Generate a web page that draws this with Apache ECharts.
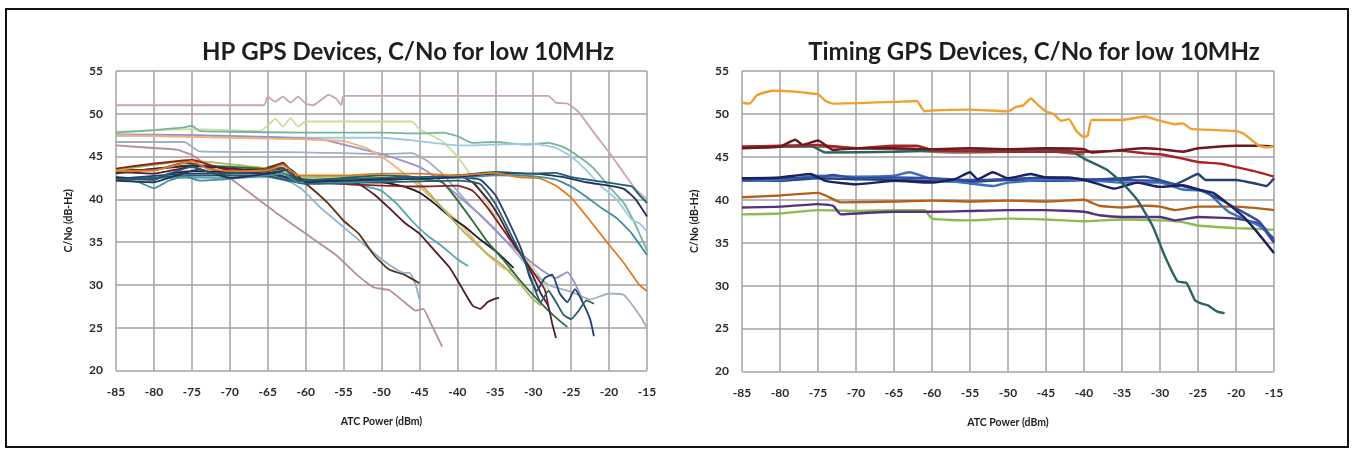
<!DOCTYPE html>
<html>
<head>
<meta charset="utf-8">
<script src="https://cdn.jsdelivr.net/npm/echarts@6/dist/echarts.min.js"></script>
<style>
html,body{margin:0;padding:0;background:#fff;}
#c{width:1353px;height:453px;}
</style>
</head>
<body>
<div id="c"></div>
<script>
// ---------- labels ----------
const titleLeft = 'HP GPS Devices, C/No for low 10MHz';
const titleRight = 'Timing GPS Devices, C/No for low 10MHz';
const xName = 'ATC Power (dBm)';
const yName = 'C/No (dB-Hz)';
const xTicks = [-85, -80, -75, -70, -65, -60, -55, -50, -45, -40, -35, -30, -25, -20, -15];
const yTicks = [20, 25, 30, 35, 40, 45, 50, 55];

// ---------- HP GPS devices (left) : [ATC power dBm, C/No dB-Hz] ----------
const hpPinkTop = [[-85,51],[-65.5,51],[-65,52],[-64,51.4],[-63,52],[-62,51.3],[-61,52],[-60,51.2],[-59,51],[-58,51.6],[-57,52.2],[-56,51.8],[-55.3,51],[-55,52.1],[-28,52.1],[-27,51.3],[-25.5,51.2],[-24,50.2],[-22,47.8],[-20,45.5],[-18,43],[-16.5,41.2],[-15,40]];
const hpYellowGreen = [[-85,47.9],[-75,48.2],[-66,48],[-65,48.6],[-64,49.4],[-63,48.5],[-62,49.5],[-61,48.5],[-60,49.1],[-55,49.1],[-46,49.1],[-45,48.2],[-42,46.8],[-40,45],[-38,42.5],[-36,39.5],[-34,36.5],[-32,34],[-30,32],[-28,29.5],[-27,28]];
const hpGreen = [[-85,47.8],[-80,48.1],[-76,48.4],[-75,48.6],[-74,48],[-70,47.9],[-60,47.8],[-50,47.8],[-45,47.7],[-42,47.8],[-40,47.4],[-38,46.6],[-35,46.7],[-31,46.4],[-28,46.6],[-26,46.1],[-24,45],[-22,43.6],[-20,41.5],[-18,39.5],[-16.5,37],[-16,36],[-15,34]];
const hpLightBlue = [[-85,47.4],[-75,47.5],[-70,47.3],[-60,47.2],[-50,47.2],[-45,46.8],[-40,46.3],[-35,46.4],[-30,46.5],[-27,46],[-25,45],[-23,43.4],[-21,41.5],[-19,40],[-17,37.6],[-16,37.2],[-15,36.2]];
const hpBlueGray = [[-85,46.7],[-76,46.7],[-74,45.6],[-60,45.5],[-50,45.3],[-46,45.4],[-44,44.5],[-42,43],[-40,41],[-38,39],[-35,36.5],[-32,33.5],[-30,31.5],[-28,30],[-25,29.2],[-22.5,28.3],[-20,29],[-18,28.8],[-16,26.5],[-15,25]];
const hpMauve = [[-85,46.3],[-80,46],[-77,45.8],[-75,45.2],[-73,44],[-70,42.5],[-67,40.5],[-64,38.5],[-60,36],[-56,33.5],[-53,31],[-51,29.7],[-49,29.4],[-47,28],[-45.5,27],[-44.5,27.2],[-43.5,25.5],[-42,22.8]];
const hpLavender = [[-85,47.6],[-75,47.5],[-65,47.3],[-58,47],[-55,46.4],[-50,45.3],[-45,43.8],[-42,42],[-40,40.5],[-37,38.2],[-34,35.5],[-31,33.2],[-29,31.8],[-27,30.8],[-25.5,31.5],[-24.5,30.2],[-23.5,28.2]];
const hpLightOrange = [[-85,47.5],[-70,47.2],[-60,47],[-55,46.8],[-52,46],[-50,45],[-47,43],[-45,41.5],[-42,39],[-40,37.5],[-38,35.5],[-36,33.5],[-34,32],[-32.5,31.5]];
const hpOrange = [[-85,43.3],[-80,43.4],[-77,44],[-75,44.5],[-73,43.6],[-70,43.3],[-65,43.4],[-63,44],[-61,42.8],[-55,42.8],[-50,43],[-45,43],[-40,42.8],[-35,43.1],[-32,42.6],[-29,42.4],[-27,41.6],[-25,40.2],[-22.5,37.5],[-20,34.7],[-18,32.5],[-16,30],[-15,29.3]];
const hpDarkTeal = [[-85,42.4],[-80,42.3],[-78,43],[-75,43.8],[-72,43],[-66,43.3],[-63,43.7],[-61,42.2],[-55,42.5],[-50,42.8],[-45,42.6],[-40,42.8],[-35,43.2],[-30,43],[-27,43.1],[-25,42.6],[-22,42.2],[-19,41.8],[-17,41.5],[-16,40.5],[-15,39.6]];
const hpNavy = [[-85,42.2],[-80,42],[-77,42.8],[-74,43.5],[-70,42.5],[-65,43],[-62,43.5],[-60,42],[-55,42.2],[-45,42.4],[-40,42.6],[-35,43],[-30,43],[-26,42.6],[-23,42],[-20,41.6],[-18,41.2],[-16.5,40],[-15,38]];
const hpTeal = [[-85,42.3],[-82,42],[-80,41.3],[-78,42.2],[-76,42.7],[-74,42.2],[-70,42.4],[-65,42.8],[-63,43],[-61,42],[-55,42],[-50,42.2],[-45,42.5],[-40,42.5],[-35,42.8],[-30,42.7],[-27,42.3],[-25,41.5],[-23,40.3],[-21,39],[-19,37.8],[-17,36],[-15,33.5]];
const hpDarkBrown = [[-85,43.5],[-80,43.4],[-76,44.3],[-74,44],[-71,43.2],[-66,43.5],[-63,44.2],[-61,42.5],[-59.5,41.5],[-57,39.5],[-55,37.5],[-53,36],[-51,33.5],[-49,31.8],[-47,31.2],[-45,30.2]];
const hpMaroon = [[-85,43.2],[-80,43],[-75,43.8],[-72,43],[-65,43.3],[-63,43.6],[-61,42.4],[-55,42.2],[-53,41.8],[-51,40.6],[-49,39],[-47,37.3],[-45,36],[-43,34],[-41,32],[-39.5,29.8],[-38,27.6],[-37,27.2],[-36,28],[-35,28.4],[-34.5,28.5]];
const hpTealLight = [[-85,42.3],[-75,42.6],[-70,42.5],[-65,42.8],[-61,42],[-55,41.8],[-52,41.5],[-50,41],[-48,39.5],[-46,37.5],[-44,35.8],[-42,34.5],[-40,33],[-38.6,32.2]];
const hpSteel = [[-85,42.5],[-75,42.5],[-65,42.6],[-62,42],[-60.5,41.2],[-58,39],[-56,37.5],[-54,36],[-52,34.5],[-50,33],[-48,31.8],[-47,31.4],[-46.3,31.4],[-45.5,30],[-45,28.3]];
const hpBlack = [[-85,42.6],[-80,42.3],[-78,43],[-75,43.3],[-65,43],[-60,42.2],[-50,42],[-47,41.5],[-45,40.8],[-43,39.5],[-41,38],[-39,36.8],[-37,35.3],[-35,34],[-32.6,32]];
const hpDarkGreen = [[-85,43],[-75,44],[-65,43.5],[-60,42.3],[-50,42.5],[-45,42.4],[-42,42],[-40.5,40.5],[-38,37.5],[-36,35],[-34,33],[-32,30.8],[-30,28.8],[-28,27],[-26.5,25.8],[-25.5,25.1]];
const hpOlive = [[-85,43.4],[-75,44.5],[-65,43.6],[-60,42.6],[-50,42.8],[-46,42.6],[-44,41],[-42,39],[-40,37],[-38,35.2],[-36,33.6],[-34,32.3],[-32,30.4],[-30,28.3],[-29,27.6]];
const hpPlum = [[-85,43.1],[-75,43.9],[-65,43.2],[-60,42],[-50,42.2],[-40,42.8],[-38,42],[-36,40],[-34.5,38],[-33,35.5],[-31.5,33.5],[-30,31],[-29,29],[-28,27.5],[-27.5,25.5],[-27,23.8]];
const hpNavyWiggle = [[-85,42.4],[-75,43],[-65,43],[-60,42],[-50,42.4],[-40,42.6],[-37,42.3],[-35,40.5],[-33,37],[-31.5,34],[-30.5,31],[-29.5,29.3],[-28.5,30.8],[-27.5,31.2],[-26.5,29],[-25.5,28],[-24.5,29.5],[-23.5,28],[-22.5,26],[-22,24]];
const hpTealWiggle = [[-85,42.2],[-75,42.8],[-65,42.7],[-60,41.8],[-50,42],[-40,42.2],[-37,41.8],[-35,39.5],[-33,36],[-31,32.5],[-30,30],[-29,28],[-28,29.3],[-27,28],[-26,26.5],[-25,26],[-24,27],[-23,28.2],[-22,27.8]];
const hpDarkRed = [[-85,43.6],[-75,44.6],[-70,43.4],[-65,43.5],[-63,44.3],[-61,42.3],[-55,41.8],[-50,41.6],[-45,41.5],[-40,41.6],[-38,41],[-36,39],[-34,36.5],[-32,34],[-30,31.5],[-28.5,29.5],[-28,27.5]];

// ---------- Timing GPS devices (right) ----------
const tmOrange = [[-85,51.3],[-84,51.2],[-83,52.2],[-81,52.7],[-78,52.6],[-76,52.4],[-75,52.3],[-74,51.5],[-73,51.2],[-65,51.4],[-62,51.5],[-61,50.3],[-60,50.4],[-55,50.5],[-50,50.3],[-49,50.8],[-48,51],[-47,51.8],[-46,51],[-45,50.3],[-44,50],[-43,49.2],[-42,49.4],[-41,48],[-40,47.3],[-39.5,47.5],[-39,49.3],[-35,49.3],[-32,49.7],[-30,49.2],[-28,48.8],[-27,48.9],[-26,48.3],[-25,48.2],[-20,48],[-19,47.7],[-18,47],[-17,46.3],[-16,46.1],[-15,46.2]];
const tmRed = [[-85,46.2],[-80,46.3],[-75,46.4],[-70,46],[-65,46.3],[-62,46.3],[-60,45.8],[-50,45.6],[-40,45.6],[-35,45.7],[-32,45.4],[-30,45.3],[-27,44.8],[-25,44.4],[-22,44.2],[-20,43.8],[-17,43.2],[-15,42.7]];
const tmMaroon = [[-85,46],[-80,46.2],[-78,47],[-77,46.4],[-75,46.9],[-73,45.8],[-70,46],[-65,46],[-60,45.9],[-55,46],[-50,45.9],[-45,46],[-40,45.9],[-39,45.5],[-35,45.8],[-32,46],[-30,45.9],[-27,45.6],[-25,46],[-20,46.3],[-17,46.3],[-15,46.2]];
const tmBrownGray = [[-85,46.1],[-75,46.2],[-70,46],[-65,45.9],[-60,45.6],[-55,45.5],[-50,45.6],[-45,45.7],[-42,45.4],[-40,45.3]];
const tmTealDrop = [[-85,46.1],[-76,46.3],[-74,45.5],[-65,45.6],[-60,45.7],[-50,45.8],[-42,45.8],[-40,44.8],[-37,43.5],[-35,42],[-33,40],[-31,37],[-29.4,33.5],[-27.7,30.5],[-26.5,30.3],[-25.4,28.3],[-24.5,27.9],[-23.7,27.7],[-22.5,27],[-21.5,26.8]];
const tmBlue = [[-85,42.3],[-80,42.5],[-75,42.6],[-73,42.9],[-70,42.5],[-65,42.6],[-60,42.5],[-55,42.3],[-50,42.4],[-45,42.6],[-40,42.4],[-35,42.3],[-30,42.2],[-27,41.6],[-25,41.2],[-22,40],[-20,39],[-17,37.5],[-15,35.2]];
const tmNavy = [[-85,42.5],[-80,42.6],[-76,43],[-74,42.2],[-70,41.8],[-65,42.2],[-60,42],[-57,42.4],[-55,43.2],[-54,42.4],[-52,43.2],[-50,42.5],[-47,43],[-45,42.6],[-42,42.6],[-40,42.3],[-38,41.8],[-36,41.3],[-33,42],[-30,41.5],[-27,41.7],[-25,41.2],[-23,40.8],[-21,39.5],[-19,38],[-17,36],[-15,33.8]];
const tmMidBlue = [[-85,42.2],[-80,42.3],[-75,42.8],[-70,42.7],[-65,42.8],[-63,43.2],[-60,42.4],[-55,41.9],[-52,41.6],[-50,42],[-45,42.3],[-40,42.3],[-35,42],[-30,42],[-27,41.2],[-24,41],[-21,38.6],[-19,37.8],[-17,37],[-15,35.5]];
const tmDeepBlue = [[-85,42.4],[-80,42.2],[-75,42.5],[-70,42.4],[-65,42.3],[-60,42.2],[-55,42.1],[-50,42.3],[-45,42.2],[-40,42.3],[-35,42.5],[-32,42.7],[-30,42.3],[-28,41.8],[-25,43],[-24,42.3],[-20,42.3],[-17,41.8],[-16,41.6],[-15,42.5]];
const tmBrown = [[-85,40.3],[-80,40.5],[-75,40.8],[-74,40.5],[-72,39.7],[-65,39.8],[-60,39.9],[-55,39.8],[-50,39.9],[-45,39.8],[-40,40],[-38,39.3],[-35,39.1],[-32,39.3],[-30,39.2],[-28,38.8],[-25,39.2],[-20,39.2],[-17,39],[-15,38.8]];
const tmPurple = [[-85,39.1],[-80,39.2],[-75,39.5],[-73,39.3],[-72,38.3],[-70,38.4],[-65,38.6],[-60,38.6],[-55,38.7],[-50,38.8],[-45,38.8],[-40,38.6],[-38,38.2],[-35,38],[-30,38],[-28,37.6],[-25,38],[-20,37.8],[-17,37.2],[-15,35]];
const tmGreen = [[-85,38.3],[-80,38.4],[-75,38.8],[-70,38.7],[-65,38.8],[-61,38.8],[-60,37.8],[-55,37.6],[-50,37.8],[-45,37.7],[-40,37.5],[-35,37.7],[-30,37.6],[-27,37.4],[-25,37],[-20,36.7],[-17,36.6],[-15,36.5]];

// ---------- build ----------
const hpSeries = [
  [hpPinkTop, '#c8a4b4'], [hpYellowGreen, '#c9dea0'], [hpGreen, '#78b49c'], [hpLightBlue, '#9ccbe0'],
  [hpBlueGray, '#9fb0c4'], [hpMauve, '#b48ca8'], [hpLavender, '#9d8fcc'], [hpLightOrange, '#f2b27a'],
  [hpSteel, '#8fb3cc'], [hpTealLight, '#5aa3b3'], [hpDarkBrown, '#5a3418'], [hpMaroon, '#4e1c2c'],
  [hpBlack, '#1e1e2a'], [hpOlive, '#a8b85a'], [hpDarkGreen, '#2e6b36'], [hpDarkRed, '#8b2020'],
  [hpPlum, '#4a1f40'], [hpNavyWiggle, '#243f73'], [hpTealWiggle, '#2a5a66'], [hpTeal, '#3f8e9e'],
  [hpNavy, '#22305e'], [hpDarkTeal, '#1f5d70'], [hpOrange, '#e07b22']
];
const tmSeries = [
  [tmGreen, '#8cbc52'], [tmPurple, '#55307e'], [tmBrown, '#b4601c'], [tmDeepBlue, '#233f78'],
  [tmMidBlue, '#3f6fb8'], [tmBlue, '#2e4fa0'], [tmNavy, '#1c2160'], [tmBrownGray, '#8a6c6c'],
  [tmTealDrop, '#2c6464'], [tmRed, '#a82424'], [tmMaroon, '#6a1a1e'], [tmOrange, '#f0a030']
];

const font = 'Lato, "Open Sans", sans-serif';
function xAxisCfg(gi){
  return {type:'value', gridIndex:gi, min:-85, max:-15, interval:5,
    name:xName, nameLocation:'middle', nameGap:46,
    nameTextStyle:{fontFamily:font, fontWeight:'bold', fontSize:10.5, color:'#222'},
    axisLine:{show:false}, axisTick:{show:false},
    axisLabel:{margin:16, fontFamily:font, fontWeight:'bold', fontSize:12, color:'#2a2a2a'},
    splitLine:{show:true, lineStyle:{color:'#a2a2a2', width:1.5}}};
}
function yAxisCfg(gi){
  return {type:'value', gridIndex:gi, min:20, max:55, interval:5,
    name:yName, nameLocation:'middle', nameGap:42, nameRotate:90,
    nameTextStyle:{fontFamily:font, fontWeight:'bold', fontSize:10.5, color:'#222'},
    axisLine:{show:false}, axisTick:{show:false},
    axisLabel:{margin:13, fontFamily:font, fontWeight:'bold', fontSize:12, color:'#2a2a2a'},
    splitLine:{show:true, lineStyle:{color:'#a2a2a2', width:1.5}}};
}
const series = [];
hpSeries.forEach(([d,c])=>series.push({type:'line', xAxisIndex:0, yAxisIndex:0, data:d, showSymbol:false, smooth:0.15,
  lineStyle:{color:c, width:1.8}, silent:true, animation:false}));
tmSeries.forEach(([d,c])=>series.push({type:'line', xAxisIndex:1, yAxisIndex:1, data:d, showSymbol:false, smooth:0.15,
  lineStyle:{color:c, width:2.4}, silent:true, animation:false}));

const chart = echarts.init(document.getElementById('c'), null, {renderer:'canvas'});
chart.setOption({
  backgroundColor:'#ffffff',
  animation:false,
  grid:[
    {left:116, top:71, width:531, height:299.5},
    {left:742, top:71, width:532, height:300.5}
  ],
  xAxis:[xAxisCfg(0), xAxisCfg(1)],
  yAxis:[yAxisCfg(0), yAxisCfg(1)],
  graphic:[
    {type:'rect', shape:{x:6, y:9, width:1342, height:438}, style:{fill:'none', stroke:'#111', lineWidth:2}, silent:true},
    {type:'text', x:408, y:52, style:{text:titleLeft, textAlign:'center', textVerticalAlign:'middle',
      font:'bold 24px Lato, "Open Sans", sans-serif', fill:'#1e1e1e'}},
    {type:'text', x:1034, y:52, style:{text:titleRight, textAlign:'center', textVerticalAlign:'middle',
      font:'bold 24px Lato, "Open Sans", sans-serif', fill:'#1e1e1e'}}
  ],
  series: series
});
</script>
</body>
</html>
